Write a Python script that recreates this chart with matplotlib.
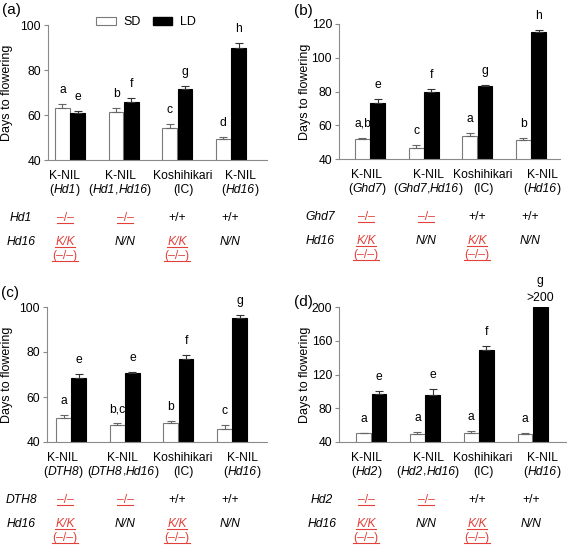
import matplotlib
matplotlib.use('Agg')
import matplotlib.pyplot as plt
from matplotlib.patches import Patch
from matplotlib.lines import Line2D
import numpy as np

plt.rcParams['font.family'] = ['Liberation Sans', 'DejaVu Sans']

W, H, DPI = 567, 546, 100

# ---------------- data ----------------
a_sd = [63.3, 61.2, 54.4, 49.5]
a_sd_err = [1.4, 1.7, 1.6, 0.9]
a_ld = [60.7, 65.6, 71.6, 89.6]
a_ld_err = [1.1, 1.9, 1.4, 2.4]
a_sd_let = ['a', 'b', 'c', 'd']
a_ld_let = ['e', 'f', 'g', 'h']
a_sub = ['(*Hd1*)', '(*Hd1*,*Hd16*)', '(IC)', '(*Hd16*)']
a_gene = 'Hd1'

b_sd = [51.9, 46.7, 53.4, 51.2]
b_sd_err = [0.7, 1.6, 1.8, 1.5]
b_ld = [73.4, 79.5, 83.5, 115.1]
b_ld_err = [2.0, 1.8, 0.6, 1.6]
b_sd_let = ['a,b', 'c', 'a', 'b']
b_ld_let = ['e', 'f', 'g', 'h']
b_sub = ['(*Ghd7*)', '(*Ghd7*,*Hd16*)', '(IC)', '(*Hd16*)']
b_gene = 'Ghd7'

c_sd = [50.5, 47.6, 48.3, 45.8]
c_sd_err = [1.6, 0.7, 1.0, 1.9]
c_ld = [68.3, 70.5, 77.0, 95.1]
c_ld_err = [1.8, 0.8, 1.7, 1.2]
c_sd_let = ['a', 'b,c', 'b', 'c']
c_ld_let = ['e', 'e', 'f', 'g']
c_sub = ['(*DTH8*)', '(*DTH8*,*Hd16*)', '(IC)', '(*Hd16*)']
c_gene = 'DTH8'

d_sd = [50.2, 49.4, 50.6, 49.4]
d_sd_err = [0.8, 2.4, 2.0, 1.6]
d_ld = [97.4, 95.9, 149.4, 200.0]
d_ld_err = [3.2, 7.1, 4.6, 0.0]
d_sd_let = ['a', 'a', 'a', 'a']
d_ld_let = ['e', 'e', 'f', 'g']
d_ld_note = ['', '', '', '>200']
d_sub = ['(*Hd2*)', '(*Hd2*,*Hd16*)', '(IC)', '(*Hd16*)']
d_gene = 'Hd2'

group_names = ['K-NIL', 'K-NIL', 'Koshihikari', 'K-NIL']
row1_vals = ['\u2013/\u2013', '\u2013/\u2013', '+/+', '+/+']
row1_red = [True, True, False, False]
row2_gene = 'Hd16'
row2_vals = ['K/K', 'N/N', 'K/K', 'N/N']
row2_red = [True, False, True, False]
row3_vals = ['(\u2013/\u2013)', '', '(\u2013/\u2013)', '']

panels = [
    dict(tag='(a)', sd=a_sd, sde=a_sd_err, ld=a_ld, lde=a_ld_err, sdl=a_sd_let, ldl=a_ld_let,
         note=None, sub=a_sub, gene=a_gene, ylim=(40, 100), yticks=[40, 60, 80, 100],
         rect=(48, 25, 267, 160), xlim=(-0.41, 3.67),
         lab_x=[65, 120, 183, 240], col_x=[65, 125, 177, 230], row_x=21, ylab_x=7, tag_xy=(2, 10)),
    dict(tag='(b)', sd=b_sd, sde=b_sd_err, ld=b_ld, lde=b_ld_err, sdl=b_sd_let, ldl=b_ld_let,
         note=None, sub=b_sub, gene=b_gene, ylim=(40, 120), yticks=[40, 60, 80, 100, 120],
         rect=(339, 24, 560, 159), xlim=(-0.58, 3.54),
         lab_x=[367, 428, 483, 542], col_x=[366, 426, 477, 530], row_x=320, ylab_x=305, tag_xy=(294, 11)),
    dict(tag='(c)', sd=c_sd, sde=c_sd_err, ld=c_ld, lde=c_ld_err, sdl=c_sd_let, ldl=c_ld_let,
         note=None, sub=c_sub, gene=c_gene, ylim=(40, 100), yticks=[40, 60, 80, 100],
         rect=(47, 307, 267, 442), xlim=(-0.45, 3.65),
         lab_x=[63, 123, 183, 242], col_x=[65, 125, 177, 230], row_x=21, ylab_x=7, tag_xy=(1, 293)),
    dict(tag='(d)', sd=d_sd, sde=d_sd_err, ld=d_ld, lde=d_ld_err, sdl=d_sd_let, ldl=d_ld_let,
         note=d_ld_note, sub=d_sub, gene=d_gene, ylim=(40, 200), yticks=[40, 80, 120, 160, 200],
         rect=(339, 307, 567, 442), xlim=(-0.6, 3.64),
         lab_x=[367, 428, 483, 542], col_x=[366, 426, 477, 531], row_x=322, ylab_x=305, tag_xy=(294, 302)),
]

RED = '#e2413b'
SPINE = '#8a8a8a'
FS = 8.7

fig = plt.figure(figsize=(W / DPI, H / DPI), dpi=DPI)
renderer = fig.canvas.get_renderer()

def fx(px):
    return px / W

def fy(py):
    return 1 - py / H

def mixed_text(cx, ypx, s, **kw):
    """Text centred at cx (pixels) with *...* segments in italic."""
    parts = s.split('*')
    objs = []
    widths = []
    for k, seg in enumerate(parts):
        if not seg:
            continue
        st = 'italic' if k % 2 == 1 else 'normal'
        t = fig.text(0, fy(ypx), seg, ha='left', va='baseline', style=st, **kw)
        widths.append(t.get_window_extent(renderer).width)
        objs.append(t)
    total = sum(widths)
    x0 = cx - total / 2
    for t, wd in zip(objs, widths):
        t.set_x(fx(x0))
        x0 += wd
    return objs

underlined = []

for p in panels:
    l, t, r, b = p['rect']
    ax = fig.add_axes([fx(l), fy(b), (r - l) / W, (b - t) / H])
    x = np.arange(4)
    w = 0.275
    off = 0.142
    ax.bar(x - off, p['sd'], width=w, color='white', edgecolor='#7a7a7a', linewidth=0.8, zorder=2)
    ax.bar(x + off, p['ld'], width=w, color='black', edgecolor='black', linewidth=0.8, zorder=2)
    ax.errorbar(x - off, p['sd'], yerr=[np.zeros(4), p['sde']], fmt='none', ecolor='#666666',
                elinewidth=0.8, capsize=3, capthick=0.8, zorder=3)
    lde = np.array(p['lde'])
    mask = lde > 0
    ax.errorbar((x + off)[mask], np.array(p['ld'])[mask], yerr=[np.zeros(mask.sum()), lde[mask]],
                fmt='none', ecolor='#333333', elinewidth=0.8, capsize=3, capthick=0.8, zorder=3)
    ax.set_ylim(*p['ylim'])
    ax.set_xlim(*p['xlim'])
    ax.set_yticks(p['yticks'])
    ax.set_xticks([])
    for s in ['top', 'right']:
        ax.spines[s].set_visible(False)
    for s in ['left', 'bottom']:
        ax.spines[s].set_color(SPINE)
        ax.spines[s].set_linewidth(0.8)
    ax.tick_params(axis='y', direction='out', length=3, width=0.8, color=SPINE, labelsize=FS, pad=2)
    # significance letters
    for i in range(4):
        ax.annotate(p['sdl'][i], xy=(x[i] - off, p['sd'][i] + p['sde'][i]), xytext=(0, 11),
                    textcoords='offset pixels', ha='center', va='baseline', fontsize=FS, annotation_clip=False)
        if p['note'] and p['note'][i]:
            ax.annotate(p['note'][i], xy=(x[i] + off, p['ld'][i]), xytext=(0, 6),
                        textcoords='offset pixels', ha='center', va='baseline', fontsize=FS, annotation_clip=False)
            ax.annotate(p['ldl'][i], xy=(x[i] + off, p['ld'][i]), xytext=(0, 23),
                        textcoords='offset pixels', ha='center', va='baseline', fontsize=FS, annotation_clip=False)
        else:
            ax.annotate(p['ldl'][i], xy=(x[i] + off, p['ld'][i] + p['lde'][i]), xytext=(0, 11),
                        textcoords='offset pixels', ha='center', va='baseline', fontsize=FS, annotation_clip=False)
    # y label
    fig.text(fx(p['ylab_x']), fy((t + b) / 2), 'Days to flowering', rotation=90, ha='center', va='center',
             fontsize=9)
    # panel tag
    fig.text(fx(p['tag_xy'][0]), fy(p['tag_xy'][1]), p['tag'], ha='left', va='center', fontsize=11)
    # group labels
    for i in range(4):
        fig.text(fx(p['lab_x'][i]), fy(b + 19), group_names[i], ha='center', va='baseline', fontsize=FS)
        mixed_text(p['lab_x'][i], b + 33, p['sub'][i], fontsize=FS)
    # genotype table
    fig.text(fx(p['row_x']), fy(b + 61), p['gene'], ha='center', va='baseline', fontsize=FS, style='italic')
    fig.text(fx(p['row_x']), fy(b + 85), row2_gene, ha='center', va='baseline', fontsize=FS, style='italic')
    for i in range(4):
        cx = p['col_x'][i]
        c1 = RED if row1_red[i] else 'black'
        t1 = fig.text(fx(cx), fy(b + 61), row1_vals[i], ha='center', va='baseline', fontsize=FS, color=c1)
        if row1_red[i]:
            underlined.append((t1, b + 62.5))
        c2 = RED if row2_red[i] else 'black'
        t2 = fig.text(fx(cx), fy(b + 85), row2_vals[i], ha='center', va='baseline', fontsize=FS,
                      color=c2, style='italic')
        if row2_red[i]:
            underlined.append((t2, b + 86.5))
        if row3_vals[i]:
            t3 = fig.text(fx(cx), fy(b + 99), row3_vals[i], ha='center', va='baseline', fontsize=FS, color=RED)
            underlined.append((t3, b + 101))

# legend in panel (a)
handles = [Patch(facecolor='white', edgecolor='#7a7a7a', linewidth=0.8, label='SD'),
           Patch(facecolor='black', edgecolor='black', label='LD')]
fig.legend(handles=handles, loc='center', bbox_to_anchor=(fx(146), fy(22)), ncol=2, frameon=False,
           fontsize=FS + 0.3, handlelength=1.55, handleheight=0.6, handletextpad=0.6, columnspacing=1.0,
           borderpad=0, borderaxespad=0)

fig.canvas.draw()
renderer = fig.canvas.get_renderer()
for txt, ypx in underlined:
    bb = txt.get_window_extent(renderer)
    yy = fy(ypx)
    fig.add_artist(Line2D([bb.x0 / W, bb.x1 / W], [yy, yy], transform=fig.transFigure,
                          color=RED, linewidth=0.8))

fig.savefig('out.png', dpi=DPI)
